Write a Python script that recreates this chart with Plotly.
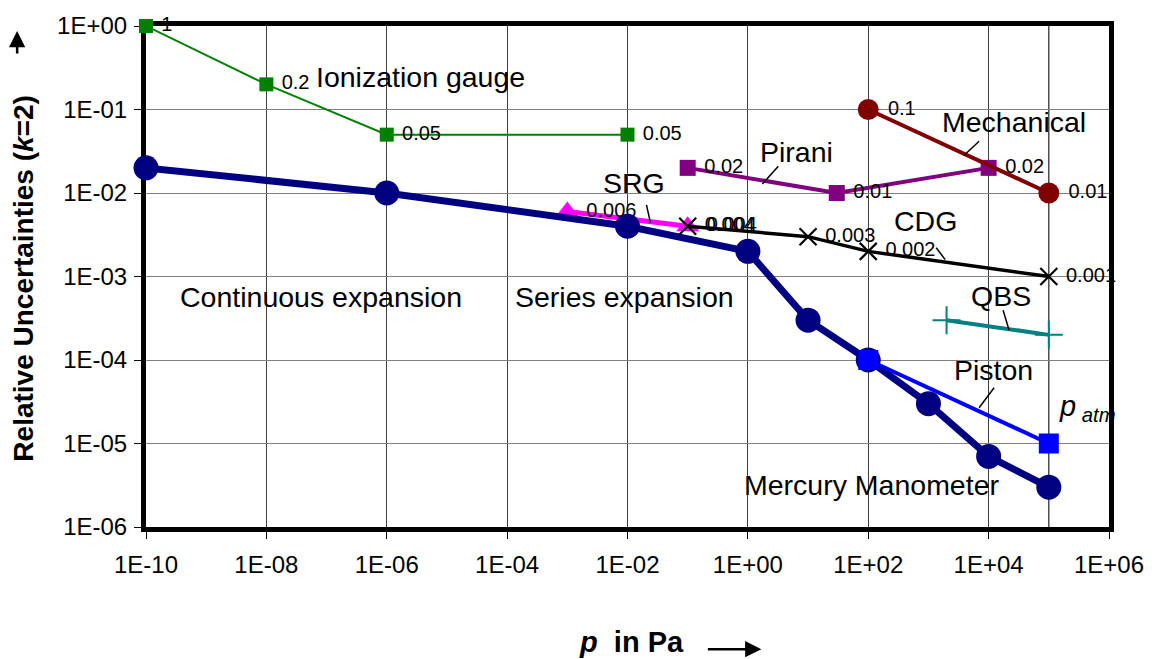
import numpy as np
import plotly.graph_objects as go

# ---------------- data ----------------
ion_p = [1e-10, 1e-8, 1e-6, 1e-2]
ion_u = [1, 0.2, 0.05, 0.05]
ion_lbl = ["1", "0.2", "0.05", "0.05"]

hg_p = [1e-10, 1e-6, 1e-2, 1, 10, 100, 1000, 1e4, 1e5]
hg_u = [0.02, 0.01, 0.004, 0.002, 3e-4, 1e-4, 3e-5, 7e-6, 3e-6]

srg_p = [1e-3, 0.1]
srg_u = [0.006, 0.004]
srg_lbl = ["0.006", "0.004"]

cdg_p = [0.1, 10, 100, 1e5]
cdg_u = [0.004, 0.003, 0.002, 0.001]
cdg_lbl = ["0.004", "0.003", "0.002", "0.001"]

pirani_p = [0.1, 30, 1e4]
pirani_u = [0.02, 0.01, 0.02]
pirani_lbl = ["0.02", "0.01", "0.02"]

mech_p = [100, 1e5]
mech_u = [0.1, 0.01]
mech_lbl = ["0.1", "0.01"]

qbs_p = [2000, 1e5]
qbs_u = [3e-4, 2e-4]

piston_p = [100, 1e5]
piston_u = [1e-4, 1e-5]

p_atm = 1e5

x_tickvals = [1e-10, 1e-8, 1e-6, 1e-4, 1e-2, 1, 1e2, 1e4, 1e6]
x_ticktext = ["1E-10", "1E-08", "1E-06", "1E-04", "1E-02", "1E+00", "1E+02", "1E+04", "1E+06"]
y_tickvals = [1, 1e-1, 1e-2, 1e-3, 1e-4, 1e-5, 1e-6]
y_ticktext = ["1E+00", "1E-01", "1E-02", "1E-03", "1E-04", "1E-05", "1E-06"]

FONT = "Liberation Sans, Arial, sans-serif"
LBL = dict(family=FONT, size=20, color="black")

fig = go.Figure()

def add(x, y, color, lw, symbol, msize, text=None, mline=0):
    fig.add_trace(go.Scatter(
        x=x, y=y, mode="lines+markers+text" if text else "lines+markers",
        line=dict(color=color, width=lw),
        marker=dict(symbol=symbol, size=msize, color=color,
                    line=dict(color=color, width=mline)),
        text=[" " + t for t in text] if text else None,
        textposition="middle right", textfont=LBL,
        cliponaxis=False, hoverinfo="skip"))

add(ion_p, ion_u, "#008000", 2, "square", 14, ion_lbl)
add(srg_p, srg_u, "#FF00FF", 5, "triangle-up", 20, srg_lbl)
add(cdg_p, cdg_u, "#000000", 3.5, "x-thin", 17, cdg_lbl, mline=2.2)
add(pirani_p, pirani_u, "#800080", 4, "square", 16, pirani_lbl)
add(mech_p, mech_u, "#800000", 4, "circle", 21, mech_lbl)
add(qbs_p, qbs_u, "#008080", 4, "cross-thin", 20, None, mline=2)
add(hg_p, hg_u, "#000080", 7, "circle", 25)
add(piston_p, piston_u, "#0000FF", 4, "square", 20)

# ---------------- text labels ----------------
BIG = dict(family=FONT, size=28.5, color="black")
dy = 0.03
labels = [
    ("Ionization gauge", -5.436, -0.64),
    ("Mechanical", 4.42, -1.18),
    ("Pirani", 0.805, -1.536),
    ("SRG", -1.884, -1.905),
    ("CDG", 2.946, -2.369),
    ("Continuous expansion", -7.095, -3.274),
    ("Series expansion", -2.05, -3.274),
    ("QBS", 4.207, -3.262),
    ("Piston", 4.075, -4.155),
    ("Mercury Manometer", 2.05, -5.524),
]
for t, lx, ly in labels:
    fig.add_annotation(text=t, x=lx, y=ly + dy, xref="x", yref="y", showarrow=False,
                       font=BIG, xanchor="center", yanchor="middle")

fig.add_annotation(text="<i>p</i><sub><i> atm</i></sub>", x=5.14, y=-4.58, xref="x", yref="y",
                   showarrow=False, font=dict(family=FONT, size=29, color="black"),
                   xanchor="left", yanchor="middle")

# leader lines (log coordinates)
leaders = [
    (0.506, -1.679, 0.241, -1.893),
    (-1.685, -2.143, -1.618, -2.357),
    (3.842, -1.381, 3.593, -1.548),
    (3.129, -2.655, 3.278, -2.798),
    (4.241, -3.405, 4.340, -3.643),
    (4.091, -4.333, 3.842, -4.571),
]
for x0, y0, x1, y1 in leaders:
    fig.add_shape(type="line", xref="x", yref="y", x0=10**x0, y0=10**y0, x1=10**x1, y1=10**y1,
                  line=dict(color="black", width=1.5), layer="above")

# p_atm reference line
fig.add_shape(type="line", xref="x", yref="y", x0=p_atm, x1=p_atm,
              y0=min(y_tickvals), y1=max(y_tickvals),
              line=dict(color="#202020", width=1.2), layer="below")

# axis titles
fig.add_annotation(text="<b>Relative Uncertainties (<i>k</i>=2)</b>", xref="paper", yref="paper",
                   x=-0.1276, y=0.496, textangle=-90, showarrow=False,
                   font=dict(family=FONT, size=28, color="black"), xanchor="center", yanchor="middle")
fig.add_annotation(text="", xref="paper", yref="paper", x=-0.1338, y=0.99,
                   ax=0, ay=24, axref="pixel", ayref="pixel", showarrow=True,
                   arrowhead=2, arrowsize=1.3, arrowwidth=2.5, arrowcolor="black")
fig.add_annotation(text="<b><i>p</i>  in Pa</b>", xref="paper", yref="paper",
                   x=0.504, y=-0.230, showarrow=False,
                   font=dict(family=FONT, size=29, color="black"), xanchor="center", yanchor="middle")
fig.add_annotation(text="", xref="paper", yref="paper", x=0.639, y=-0.244,
                   ax=-55, ay=0, axref="pixel", ayref="pixel", showarrow=True,
                   arrowhead=2, arrowsize=1.3, arrowwidth=2.5, arrowcolor="black")

axis_common = dict(type="log", showgrid=True, gridwidth=1, zeroline=False,
                   showline=True, linecolor="black", linewidth=5, mirror=True, layer="below traces",
                   ticks="outside", ticklen=7, tickwidth=1, tickcolor="black",
                   tickfont=dict(family=FONT, size=24, color="black"))
fig.update_xaxes(range=[-10, 6], tickvals=x_tickvals, ticktext=x_ticktext,
                 gridcolor="#404040", ticklabelstandoff=5, **axis_common)
fig.update_yaxes(range=[-6, 0], tickvals=y_tickvals, ticktext=y_ticktext,
                 gridcolor="#808080", ticklabelstandoff=2, **axis_common)

fig.update_layout(width=1156, height=659, margin=dict(l=146, r=46, t=23, b=132),
                  plot_bgcolor="white", paper_bgcolor="white", showlegend=False,
                  font=dict(family=FONT, color="black"))

fig.write_html("out.html")
